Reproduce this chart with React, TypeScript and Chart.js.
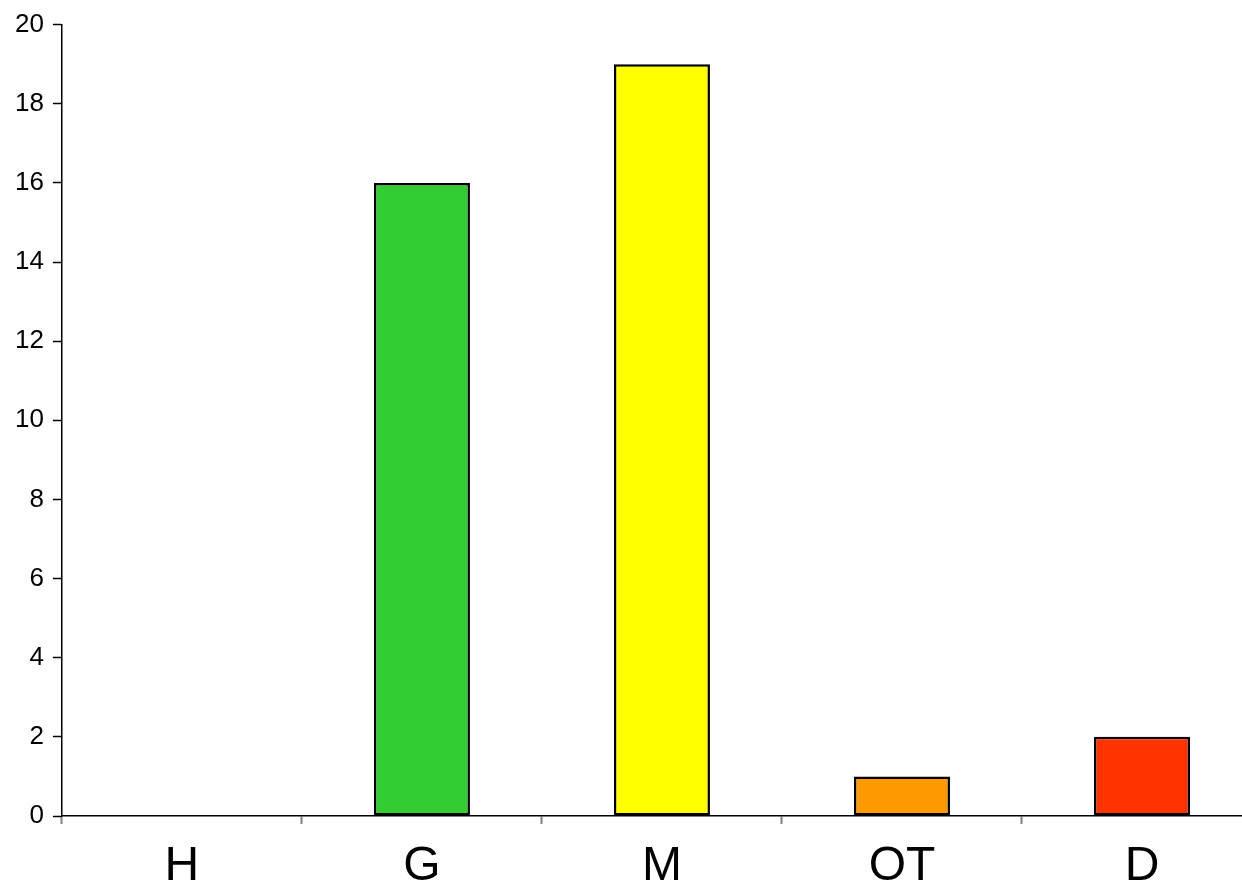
import React, { useEffect, useRef } from "react";
import { Chart, registerables } from "chart.js";

Chart.register(...registerables);

const categories = ["H", "G", "M", "OT", "D"];
const counts = [0, 16, 19, 1, 2];
const barColors = ["#33CC33", "#33CC33", "#FFFF00", "#FF9900", "#FF3300"];
const yTicks = [0, 2, 4, 6, 8, 10, 12, 14, 16, 18, 20];

export default function App() {
  const ref = useRef<HTMLCanvasElement | null>(null);
  useEffect(() => {
    const canvas = ref.current!;
    const chart = new Chart(canvas, {
      type: "bar",
      data: {
        labels: categories,
        datasets: [
          {
            data: counts,
            backgroundColor: barColors,
            borderColor: "#000000",
            borderWidth: (c: any) => (c.raw === 0 ? 0 : 2.5),
            borderSkipped: false,
            categoryPercentage: 1,
            barPercentage: 0.4,
          },
        ],
      },
      options: {
        responsive: false,
        animation: false,
        layout: { padding: { left: 6, top: 10, right: 0, bottom: -22 } },
        plugins: { legend: { display: false }, tooltip: { enabled: false } },
        scales: {
          x: {
            grid: {
              display: true,
              drawOnChartArea: false,
              offset: true,
              tickLength: 8,
              color: "#808080",
              tickWidth: 2,
            },
            border: { display: true, color: "#000000", width: 1.5 },
            ticks: {
              color: "#000000",
              padding: 19,
              font: { family: "Liberation Sans, Arial, sans-serif", size: 48, lineHeight: 1 },
            },
          },
          y: {
            min: 0,
            max: 20,
            afterBuildTicks: (axis: any) => {
              axis.ticks = yTicks.map((v) => ({ value: v }));
            },
            grid: {
              display: true,
              drawOnChartArea: false,
              tickLength: 9,
              color: "#000000",
              tickWidth: 1.5,
            },
            border: { display: true, color: "#000000", width: 1.5 },
            ticks: {
              color: "#000000",
              padding: 9,
              font: { family: "Liberation Sans, Arial, sans-serif", size: 26, lineHeight: 1.2 },
            },
          },
        },
      },
    });
    return () => chart.destroy();
  }, []);
  return (
    <div
      style={{
        position: "fixed",
        left: 0,
        top: 0,
        width: 1242,
        height: 888,
        overflow: "hidden",
        background: "#ffffff",
      }}
    >
      <canvas ref={ref} width={1262} height={888} style={{ display: "block" }} />
    </div>
  );
}
